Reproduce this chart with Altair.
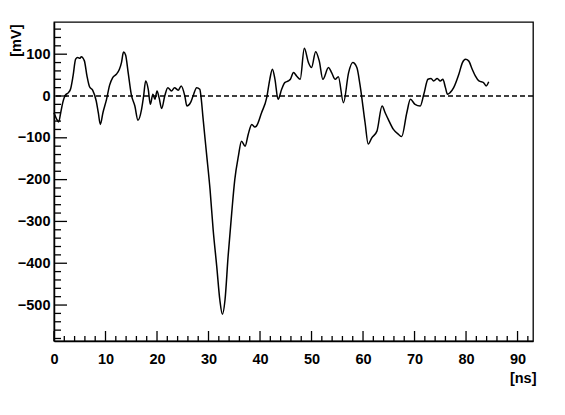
import altair as alt
import pandas as pd

# waveform
t_ns = [0.0, 0.5, 0.9, 1.3, 1.7, 2.2, 2.8, 3.2, 3.7, 4.2, 4.6, 5.0, 5.3, 5.9, 6.4, 6.9, 7.5, 8.2, 8.6, 9.0,
        9.5, 10.2, 10.8, 11.4, 12.1, 12.7, 13.1, 13.5, 13.9, 14.4, 15.0, 15.7, 16.3, 17.0, 17.4, 17.8, 18.3,
        18.7, 19.2, 19.6, 20.0, 20.4, 20.9, 21.5, 22.1, 22.8, 23.4, 24.1, 24.7, 25.4, 25.8, 26.5, 27.0, 27.7,
        28.3, 28.6, 28.9, 29.6, 30.3, 30.9, 31.6, 32.2, 32.7, 33.2, 33.8, 34.5, 35.1, 35.8, 36.4, 37.1, 37.7,
        38.4, 39.0, 39.3, 40.3, 41.3, 41.9, 42.4, 42.9, 43.5, 44.2, 44.8, 45.5, 45.9, 46.5, 47.1, 47.8, 48.6,
        49.4, 50.0, 50.8, 51.5, 52.2, 53.3, 53.9, 54.6, 55.2, 56.2, 57.2, 58.0, 58.8, 59.4, 60.4, 61.0, 61.7,
        62.7, 63.7, 64.3, 64.9, 65.9, 66.9, 67.5, 68.5, 69.2, 70.1, 71.1, 71.8, 72.6, 73.2, 73.7, 74.4, 75.0,
        75.5, 76.0, 76.4, 76.9, 77.6, 78.6, 79.3, 79.9, 80.5, 81.2, 81.8, 82.5, 83.4, 83.9, 84.4]
v_mv = [-40, -55, -62, -40, -16, 2, 8, 16, 48, 88, 92, 90, 94, 84, 48, 22, 14, -12, -40, -68,
        -40, -8, 26, 44, 52, 64, 80, 105, 98, 56, 4, -24, -58, -32, 0, 36, 16,
        -20, 4, -8, 12, -4, -30, 0, 20, 12, 20, 14, 24, 0, -24, -16, 0, 20,
        16, -8, -48, -136, -224, -320, -408, -488, -522, -488, -384, -280, -200, -144, -108, -120, -92,
        -68, -74, -72, -40, -4, 40, 64, 40, -8, 16, 32, 36, 40, 56, 48, 40, 114,
        80, 68, 106, 84, 40, 68, 56, 40, 46, -16, 56, 80, 68, 28, -64, -115, -100,
        -84, -24, -40, -56, -80, -92, -97, -40, -8, -20, -24, 4, 40, 42, 36, 42, 36,
        40, 20, 4, 8, 20, 52, 80, 88, 84, 64, 48, 36, 32, 24, 34]

x_major = [0, 10, 20, 30, 40, 50, 60, 70, 80, 90]
x_minor = [v for v in range(0, 93, 2) if v % 10]
y_major = [-500, -400, -300, -200, -100, 0, 100]
y_minor = [v for v in range(-580, 177, 20) if v % 100]
x_domain = [0, 93]
y_domain = [-586, 177]

W, H = 479, 319
FONT = "Liberation Sans"
xs = alt.Scale(domain=x_domain, nice=False, zero=False)
ys = alt.Scale(domain=y_domain, nice=False, zero=False)

x_axis = alt.Axis(
    values=x_major, title="[ns]", ticks=False, tickSize=0, grid=False,
    domain=True, domainColor="black", domainWidth=1.5,
    labelFont=FONT, labelFontWeight="bold", labelFontSize=14.5, labelColor="black",
    labelPadding=11, labelFlush=False,
    titleFont=FONT, titleFontWeight="bold", titleFontSize=14.5, titleColor="black",
    titleAlign="right", titleAnchor="end", titleX=W + 3, titleY=37, titleBaseline="middle")
y_axis = alt.Axis(
    values=y_major, title="[mV]", ticks=False, tickSize=0, grid=False,
    domain=True, domainColor="black", domainWidth=1.5,
    labelFont=FONT, labelFontWeight="bold", labelFontSize=14.5, labelColor="black",
    labelPadding=4, labelFlush=False,
    titleFont=FONT, titleFontWeight="bold", titleFontSize=14.5, titleColor="black",
    titleAngle=270, titleAlign="right", titleX=-38, titleY=2, titleBaseline="middle")


def X(field):
    return alt.X(field, scale=xs, axis=x_axis, title="[ns]")


def Y(field):
    return alt.Y(field, scale=ys, axis=y_axis, title="[mV]")


df = pd.DataFrame({"t": t_ns, "v": v_mv})

line = alt.Chart(df).mark_line(color="black", strokeWidth=1.5, interpolate="monotone").encode(
    x=X("t:Q"), y=Y("v:Q"))

zero = alt.Chart(pd.DataFrame({"v": [0]})).mark_rule(
    color="black", strokeWidth=1.3, strokeDash=[5, 3]).encode(y=Y("v:Q"))

ymaj = alt.Chart(pd.DataFrame({"v": y_major})).mark_rule(color="black", strokeWidth=1.3).encode(
    y=Y("v:Q"), x=alt.value(0), x2=alt.value(13))
ymin = alt.Chart(pd.DataFrame({"v": y_minor})).mark_rule(color="black", strokeWidth=1.3).encode(
    y=Y("v:Q"), x=alt.value(0), x2=alt.value(7))
xmaj = alt.Chart(pd.DataFrame({"t": x_major})).mark_rule(color="black", strokeWidth=1.3).encode(
    x=X("t:Q"), y=alt.value(H), y2=alt.value(H - 10))
xmin = alt.Chart(pd.DataFrame({"t": x_minor})).mark_rule(color="black", strokeWidth=1.3).encode(
    x=X("t:Q"), y=alt.value(H), y2=alt.value(H - 5))

chart = alt.layer(line, zero, ymaj, ymin, xmaj, xmin).properties(
    width=W, height=H,
    autosize=alt.AutoSizeParams(type="none"),
    padding={"left": 46, "top": 14, "right": 20, "bottom": 60},
    background="white",
).configure_view(stroke="black", strokeWidth=1.3)

chart.save("out.html", embed_options={"renderer": "svg", "actions": False})
